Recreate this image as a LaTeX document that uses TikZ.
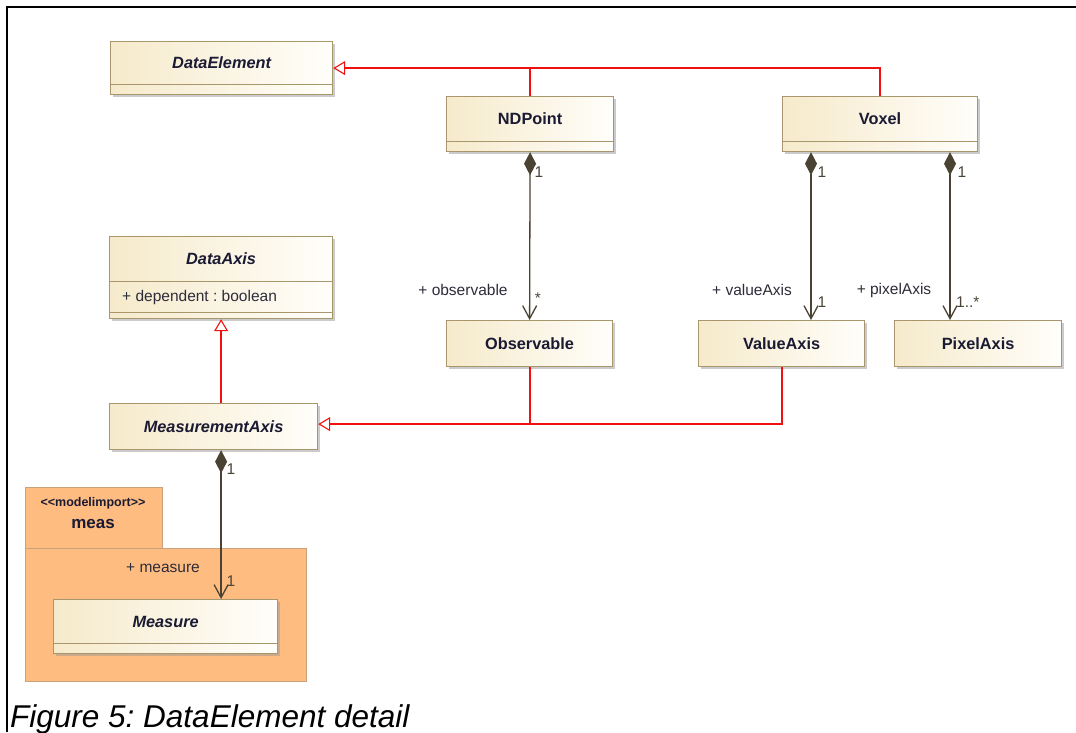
\documentclass[tikz,border=0pt]{standalone}
\usepackage{fontspec}
\setmainfont{Liberation Sans}
\usetikzlibrary{arrows.meta,shadows,calc}
\frenchspacing
\definecolor{clsL}{HTML}{F6EACB}
\definecolor{clsR}{HTML}{FFFEFA}
\definecolor{clsB}{HTML}{A8966C}
\definecolor{genC}{HTML}{F01010}
\definecolor{compC}{HTML}{4A4232}
\definecolor{pkgC}{HTML}{FEBC80}
\definecolor{pkgB}{HTML}{C9A27C}
\definecolor{lblC}{HTML}{2E2C3A}
\definecolor{nameC}{HTML}{1A1A33}
\definecolor{multC}{HTML}{4A4436}
\tikzset{
  clsbox/.style={draw=clsB, line width=1.2pt, left color=clsL, right color=clsR,
    drop shadow={shadow xshift=2pt, shadow yshift=-2pt, fill=black!40, opacity=0.5},
    inner sep=0pt, anchor=north west, text=nameC,
    font=\fontsize{16.3}{19}\selectfont\bfseries},
  abstr/.style={font=\fontsize{16.3}{19}\selectfont\bfseries\itshape},
  pkgbox/.style={draw=pkgB, line width=0.8pt, fill=pkgC, anchor=north west, inner sep=0pt},
  lbl/.style={text=lblC, font=\fontsize{15.5}{18}\selectfont, inner sep=0pt},
  mult/.style={text=multC, font=\fontsize{15.5}{18}\selectfont, inner sep=0pt},
  genseg/.style={draw=genC, line width=1.5pt},
  genline/.style={draw=genC, line width=1.5pt, -{Triangle[open,length=12pt,width=14pt,line width=1.1pt]}},
  compline/.style={draw=compC, line width=1.3pt,
    {Diamond[length=23pt,width=12pt,fill=compC]}-{Straight Barb[length=13pt,width=14pt]}},
}
\begin{document}
\begin{tikzpicture}[x=1pt,y=-1pt]
\useasboundingbox (0,0) rectangle (1076,732);
\fill[white] (0,0) rectangle (1076,732);
% frame
\draw[line width=1.5pt] (7,732) -- (7,7) -- (1076,7);

% package meas
\node[pkgbox, minimum width=137pt, minimum height=61pt] (pkgtab) at (25,487) {};
\node[pkgbox, minimum width=281pt, minimum height=133pt] (pkgbody) at (25,548) {};
\node[text=nameC, font=\fontsize{12.5}{15}\selectfont\bfseries, inner sep=0pt] (pkgst) at (93,503) {<{}<modelimport>{}>};
\node[text=nameC, font=\fontsize{17}{20}\selectfont\bfseries, inner sep=0pt] (pkgname) at (93,524) {meas};

% classes
\node[clsbox, abstr, minimum width=222pt, minimum height=43pt] (de) at (110,41) {DataElement};
\node[clsbox, minimum width=222pt, minimum height=10pt] (dec) at (110,84) {};

\node[clsbox, minimum width=167pt, minimum height=45pt] (nd) at (446,96) {NDPoint};
\node[clsbox, minimum width=167pt, minimum height=10pt] (ndc) at (446,141) {};

\node[clsbox, minimum width=195pt, minimum height=45pt] (vx) at (782,96) {Voxel};
\node[clsbox, minimum width=195pt, minimum height=10pt] (vxc) at (782,141) {};

\node[clsbox, abstr, minimum width=223pt, minimum height=45pt] (da) at (109,236) {DataAxis};
\node[clsbox, minimum width=223pt, minimum height=31pt] (dac) at (109,281) {};
\node[clsbox, minimum width=223pt, minimum height=6pt] (dae) at (109,312) {};
\node[lbl, anchor=west] (daattr) at (122,297) {+ dependent : boolean};

\node[clsbox, minimum width=166pt, minimum height=46pt] (ob) at (446,320) {Observable};
\node[clsbox, minimum width=166pt, minimum height=46pt] (va) at (698,320) {ValueAxis};
\node[clsbox, minimum width=167pt, minimum height=46pt] (px) at (894,320) {PixelAxis};

\node[clsbox, abstr, minimum width=208pt, minimum height=46pt] (ma) at (109,403) {MeasurementAxis};

\node[clsbox, abstr, minimum width=224pt, minimum height=44pt] (me) at (53,599) {Measure};
\node[clsbox, minimum width=224pt, minimum height=10pt] (mec) at (53,643) {};

% helper coordinates
\coordinate (deR) at ($(de.north east)!0.5!(dec.south east)$);
\coordinate (maR) at ($(ma.east)+(0,-2.5)$);
\coordinate (vxA) at ($(vxc.south west)+(29,0)$);
\coordinate (vxB) at ($(vxc.south west)+(168,0)$);
\coordinate (obB) at ($(ob.south)+(0.5,0)$);
\coordinate (obM) at (obB |- maR);
\coordinate (vaB) at ($(va.south)+(0.5,0)$);
\coordinate (vaM) at (vaB |- maR);

% compositions
\draw[compline] (ndc.south) -- (ob.north);
\draw[compline] (vxA) -- (vxA |- va.north);
\draw[compline] (vxB) -- (vxB |- px.north);
\draw[compline] (dae.south |- ma.south) -- (dae.south |- me.north);

% labels
\node[mult] (m1) at (539,172) {1};
\node[mult] (m2) at (538,298) {*};
\node[lbl] (l1) at (463,290) {+ observable};
\node[mult] (m3) at (822,172) {1};
\node[mult] (m4) at (962,172) {1};
\node[lbl] (l2) at (752,290) {+ valueAxis};
\node[mult] (m5) at (822,302) {1};
\node[lbl] (l3) at (894,290) {+ pixelAxis};
\node[mult, anchor=west] (m6) at (956,302) {1..*};
\node[mult] (m7) at (231,469) {1};
\node[lbl] (l4) at (163,568) {+ measure};
\node[mult] (m8) at (231,581) {1};

% generalizations
\draw[genline] (nd.north) |- (deR);
\draw[genseg] (vx.north) |- (nd.north |- deR);
\draw[genline] (dae.south |- ma.north) -- (dae.south);
\draw[genseg] (vaB) -- (vaM) -- (obM);
\draw[genline] (obB) -- (obM) -- (maR);

% caption
\node[anchor=base west, inner sep=0pt, font=\fontsize{31.5}{36}\selectfont\itshape] (cap) at (10,727) {Figure 5: DataElement detail};
\end{tikzpicture}
\end{document}
